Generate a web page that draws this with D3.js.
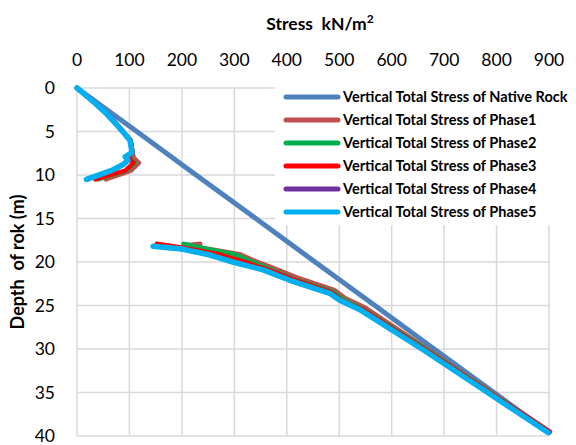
<!DOCTYPE html>
<html>
<head>
<meta charset="utf-8">
<script src="https://cdn.jsdelivr.net/npm/d3@7"></script>
<style>
  body { margin: 0; background: #fff; }
  svg { font-family: Lato, "Open Sans", sans-serif; }
</style>
</head>
<body>
<svg id="chart" width="576" height="445"></svg>
<script>
// ---- data (stress kN/m2 vs depth m), null = gap in the line ----
const xTicks = [0, 100, 200, 300, 400, 500, 600, 700, 800, 900];
const yTicks = [0, 5, 10, 15, 20, 25, 30, 35, 40];

const nativeDepth  = [0, 5, 10, 15, 20, 25, 30, 35, 39.6];
const nativeStress = [0, 114, 227, 341, 454, 568, 681, 795, 900];

const phase1Depth  = [0, 1.5, 3, 4.5, 6, 7.4, 8.0, 8.6, 9.5, 10.5, null, 17.9, 18.1, 18.6, 19.1, 19.9, 20.7, 21.8, 23.2, 24.1, 25.2, 30, 35, 39.5];
const phase1Stress = [0, 30, 58, 80, 102, 106, 108, 118, 103, 55, null, 235, 205, 260, 310, 340, 375, 420, 490, 510, 548, 668, 790, 902];

const phase2Depth  = [0, 1.5, 3, 4.5, 6, 7.4, 8.0, 8.6, 9.5, 10.5, null, 17.9, 18.6, 19.1, 20.0, 21.0, 22.0, 23.4, 24.3, 25.4, 30, 35, 39.5];
const phase2Stress = [0, 30, 57, 80, 102, 106, 100, 110, 95, 40, null, 203, 255, 300, 335, 375, 415, 488, 507, 545, 665, 788, 900];

const phase3Depth  = [0, 1.5, 3, 4.5, 6, 7.4, 8.0, 8.6, 9.5, 10.5, null, 17.9, 18.4, 19.1, 20.0, 21.0, 22.0, 23.5, 24.4, 25.4, 30, 35, 39.5];
const phase3Stress = [0, 31, 58, 81, 102, 106, 98, 108, 92, 35, null, 152, 205, 270, 320, 370, 412, 486, 504, 543, 662, 787, 900];

const phase4Depth  = [0, 1.5, 3, 4.5, 6, 7.4, 7.9, 8.3, 8.8, 9.5, 10.5, null, 18.2, 18.5, 19.2, 20.0, 20.9, 22.1, 23.6, 24.4, 25.5, 30, 35, 39.6];
const phase4Stress = [0, 30, 57, 80, 101, 105, 93, 98, 89, 66, 20, null, 146, 200, 254, 297, 355, 406, 482, 501, 540, 658, 783, 900];

const phase5Depth  = [0, 1.5, 3, 4.5, 6, 7.4, 7.9, 8.3, 8.8, 9.5, 10.5, null, 18.2, 18.5, 19.2, 20.0, 20.9, 22.1, 23.6, 24.4, 25.5, 30, 35, 39.6];
const phase5Stress = [0, 30, 57, 80, 101, 105, 92, 97, 88, 65, 18, null, 145, 200, 254, 297, 355, 406, 482, 501, 540, 658, 783, 898];

const seriesNames = [
  "Vertical Total Stress of Native Rock",
  "Vertical Total Stress of Phase1",
  "Vertical Total Stress of Phase2",
  "Vertical Total Stress of Phase3",
  "Vertical Total Stress of Phase4",
  "Vertical Total Stress of Phase5"
];
const seriesColors = ["#4F81BD", "#C0504D", "#00B050", "#FF0000", "#7030A0", "#00B0F0"];
const seriesWidths = [5, 4.5, 4.5, 4.5, 4.5, 5.5];

const allSeries = [
  [nativeDepth, nativeStress],
  [phase1Depth, phase1Stress],
  [phase2Depth, phase2Stress],
  [phase3Depth, phase3Stress],
  [phase4Depth, phase4Stress],
  [phase5Depth, phase5Stress]
].map(([dep, st]) => dep.map((d, i) => ({ depth: d, stress: st[i] })));

// ---- layout ----
const svg = d3.select("#chart");
const x = d3.scaleLinear().domain([0, 900]).range([77, 549]);
const y = d3.scaleLinear().domain([0, 40]).range([88, 436]);

// gridlines
const grid = svg.append("g");
grid.selectAll("line.v").data(xTicks).join("line")
  .attr("x1", d => x(d)).attr("x2", d => x(d))
  .attr("y1", y(0)).attr("y2", y(40))
  .attr("stroke", "#d9d9d9").attr("stroke-width", 1.5);
grid.selectAll("line.h").data(yTicks).join("line")
  .attr("y1", d => y(d)).attr("y2", d => y(d))
  .attr("x1", x(0)).attr("x2", x(900))
  .attr("stroke", "#d9d9d9").attr("stroke-width", 1.5);

// tick labels
svg.append("g").selectAll("text").data(xTicks).join("text")
  .attr("x", d => x(d)).attr("y", 66)
  .attr("text-anchor", "middle")
  .attr("font-size", 17.5).attr("fill", "#000")
  .text(d => d);
svg.append("g").selectAll("text").data(yTicks).join("text")
  .attr("x", 55).attr("y", d => Math.min(y(d) + 6, 442))
  .attr("text-anchor", "end")
  .attr("font-size", 17.5).attr("fill", "#000")
  .text(d => d);

// axis titles
const xTitle = svg.append("text")
  .attr("x", 320).attr("y", 30)
  .attr("text-anchor", "middle")
  .attr("font-size", 17.5).attr("font-weight", "bold")
  .attr("xml:space", "preserve");
xTitle.append("tspan").text("Stress  kN/m");
xTitle.append("tspan").attr("dy", -7).attr("font-size", 12).text("2");

svg.append("text")
  .attr("transform", "translate(24,262) rotate(-90)")
  .attr("text-anchor", "middle")
  .attr("font-size", 18).attr("font-weight", "bold")
  .attr("xml:space", "preserve")
  .text("Depth  of rok (m)");

// legend background (covers the grid in the top right)
const legend = svg.append("g");
legend.append("rect")
  .attr("x", 275).attr("y", 80)
  .attr("width", 301).attr("height", 145)
  .attr("fill", "#fff");

// lines
const line = d3.line()
  .defined(d => d.depth !== null)
  .x(d => x(d.stress))
  .y(d => y(d.depth));

svg.append("g").selectAll("path").data(allSeries).join("path")
  .attr("d", line)
  .attr("fill", "none")
  .attr("stroke", (d, i) => seriesColors[i])
  .attr("stroke-width", (d, i) => seriesWidths[i])
  .attr("stroke-linejoin", "round")
  .attr("stroke-linecap", "round");

// legend entries
const items = legend.selectAll("g.item").data(seriesNames).join("g")
  .attr("transform", (d, i) => `translate(0, ${97 + i * 23})`);
items.append("line")
  .attr("x1", 286).attr("x2", 338)
  .attr("stroke", (d, i) => seriesColors[i])
  .attr("stroke-width", 5)
  .attr("stroke-linecap", "round");
items.append("text")
  .attr("x", 343).attr("y", 5)
  .attr("font-size", 14.5).attr("font-weight", "bold")
  .attr("fill", "#000")
  .text(d => d);
</script>
</body>
</html>
